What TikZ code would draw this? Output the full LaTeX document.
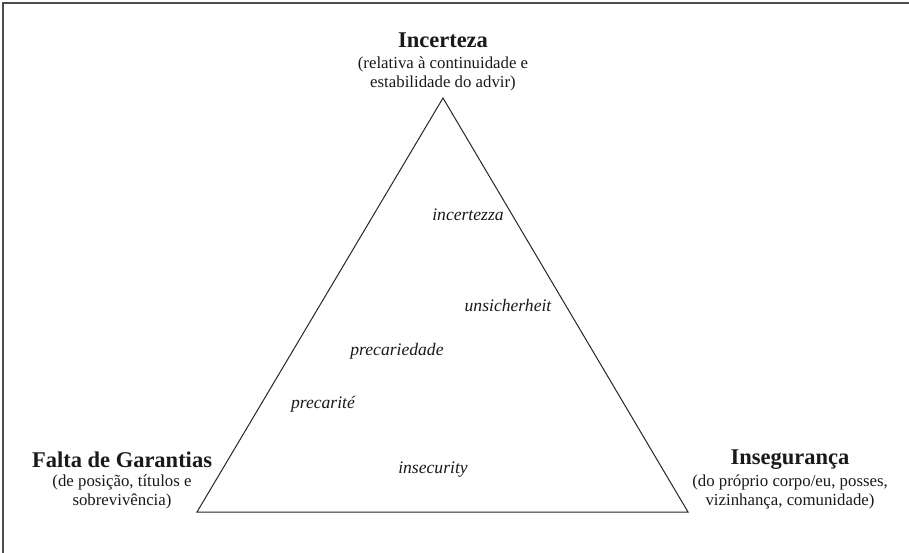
\documentclass[tikz,border=0pt]{standalone}
\usepackage{fontspec}
\setmainfont{Liberation Serif}
\begin{document}
\begin{tikzpicture}[x=1pt,y=-1pt,
  title/.style={font=\fontsize{22.5}{25}\selectfont\bfseries, text=black!90, inner sep=0pt},
  sub/.style={font=\fontsize{16.8}{19}\selectfont, text=black!90, align=center, inner sep=0pt},
  term/.style={font=\fontsize{17.6}{20}\selectfont\itshape, text=black!90, inner sep=0pt},
  edge/.style={draw=black!85, line width=1pt},
  frame/.style={draw=black!70, line width=1.2pt}]
\useasboundingbox (0,0) rectangle (909,553);
% frame (top and left)
\coordinate (fTR) at (909,3);
\coordinate (fTL) at (3,3);
\coordinate (fBL) at (3,553);
\draw[frame] (fTR) -- (fTL) -- (fBL);
% triangle
\coordinate (apex) at (443,98);
\coordinate (bl) at (197,512);
\coordinate (br) at (688,512);
\draw[edge, line join=miter] (apex) -- (bl) -- (br) -- cycle;
% vertex labels
\node[title] (tInc) at (443,40) {Incerteza};
\node[sub] (sInc) at (443,74) {(relativa à continuidade e\\estabilidade do advir)};
\node[title] (tFal) at (122,460) {Falta de Garantias};
\node[sub] (sFal) at (122,492) {(de posição, títulos e\\sobrevivência)};
\node[title] (tIns) at (790,460) {Insegurança};
\node[sub] (sIns) at (790,492) {(do próprio corpo/eu, posses,\\vizinhança, comunidade)};
% terms
\node[term] (w1) at (468,215) {incertezza};
\node[term] (w2) at (508,305) {unsicherheit};
\node[term] (w3) at (397,351) {precariedade};
\node[term] (w4) at (323,404) {precarité};
\node[term] (w5) at (433,470) {insecurity};
\end{tikzpicture}
\end{document}
